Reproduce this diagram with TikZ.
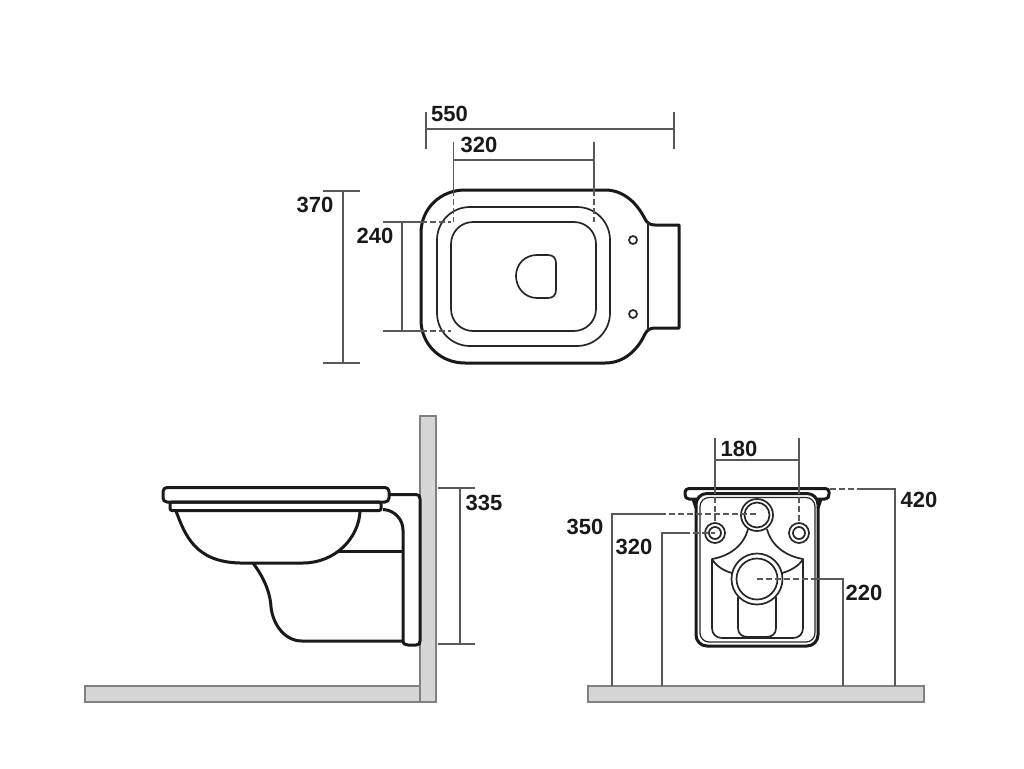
\documentclass[tikz,border=0pt]{standalone}
\usepackage{fontspec}
\setmainfont{Liberation Sans}
\begin{document}
\begin{tikzpicture}[x=1pt,y=-1pt,
outline/.style ={draw=black!90, line width=3pt, line join=round},
thin outline/.style ={draw=black!85, line width=1.7pt, line join=round},
dim/.style ={draw=black!65, line width=1.1pt},
dimdash/.style ={dim, dash pattern=on 6pt off 3pt},
masonry/.style ={fill=black!16, draw=black!50, line width=1.2pt},
size/.style ={font=\bfseries\fontsize{22}{24}\selectfont, text=black!90, inner sep=0pt}]
\useasboundingbox (0,0) rectangle (1024,768);

\draw[masonry] (420,416) rectangle (436,702);
\draw[masonry] (85,686) rectangle (420,702);
\draw[masonry] (588,686) rectangle (924,702);

\draw[outline] (465,190) -- (605,190) .. controls (625,190) and (638,205) .. (645,219)
  .. controls (647,223) and (650,225) .. (655,225) -- (679,225) -- (679,328) -- (655,328)
  .. controls (650,328) and (647,330) .. (645,334) .. controls (638,349) and (625,363) .. (605,363)
  -- (465,363) .. controls (440,363) and (421,344) .. (421,320) -- (421,233)
  .. controls (421,209) and (440,190) .. (465,190) -- cycle;
\draw[thin outline] (648,222) -- (648,331);
\draw[thin outline, rounded corners=33pt] (437,207) rectangle (610,346);
\draw[thin outline, rounded corners=22pt] (451,222) rectangle (596,331);
\draw[thin outline] (537,255) -- (548,255) .. controls (553,255) and (556,258) .. (556,263)
  -- (556,290) .. controls (556,295) and (553,298) .. (548,298) -- (537,298)
  .. controls (525,298) and (516,288) .. (516,276) .. controls (516,264) and (525,255) .. (537,255) -- cycle;
\draw[thin outline] (633,240) circle (4);
\draw[thin outline] (633,314) circle (4);

\draw[outline, rounded corners=4pt] (163,487.5) rectangle (389,502);
\draw[outline, rounded corners=2pt] (170,502) rectangle (381,510.5);
\draw[outline] (176,511) .. controls (185,535) and (195,562) .. (240,563) -- (303,563)
  .. controls (335,563) and (359,538) .. (360,511);
\draw[outline] (253,563) .. controls (262,575) and (270,590) .. (271,607)
  .. controls (273,625) and (285,641) .. (302,641) -- (403,641);
\draw[outline] (383,509.5) .. controls (395,510) and (403,520) .. (403,530) -- (403,640)
  .. controls (403,644) and (405,645) .. (408,645) -- (416,645)
  .. controls (419,645) and (420,644) .. (420,641) -- (420,499)
  .. controls (420,496) and (419,494.5) .. (416,494.5) -- (389,494.5);
\draw[outline] (338,551) -- (403,551);

\draw[outline] (697,499) -- (689,499) .. controls (686,499) and (685,497) .. (685,494)
  -- (685,492) .. controls (685,490) and (687,488.5) .. (689,488.5) -- (825,488.5)
  .. controls (828,488.5) and (829,490) .. (829,492) -- (829,494)
  .. controls (829,497) and (828,499) .. (825,499) -- (817,499);
\draw[outline] (693,499) -- (696,508) (821,499) -- (818,508);
\draw[outline, rounded corners=11pt] (696,493.5) rectangle (818,646);
\draw[thin outline, line width=1.2pt, rounded corners=9pt] (700,497.5) rectangle (815,642);
\draw[thin outline] (757,515) circle (16);
\draw[thin outline] (757,515) circle (12.5);
\draw[thin outline] (715,533) circle (10);
\draw[thin outline] (715,533) circle (6);
\draw[thin outline] (799,533) circle (10);
\draw[thin outline] (799,533) circle (6);
\draw[thin outline] (757,579) circle (25.5);
\draw[thin outline] (757,579) circle (20.5);
\draw[thin outline] (748,529) .. controls (744,545) and (730,556) .. (712,559) -- (712,628)
  .. controls (712,634) and (716,638) .. (722,638) -- (793,638)
  .. controls (799,638) and (803,634) .. (803,628) -- (803,559)
  .. controls (785,556) and (771,545) .. (767,529);
\draw[thin outline] (712,559) .. controls (716,566) and (724,571) .. (732,573);
\draw[thin outline] (803,559) .. controls (799,566) and (790,571) .. (782,573);
\draw[thin outline] (738,597) -- (738,628) .. controls (738,634) and (742,637) .. (748,637)
  -- (766,637) .. controls (772,637) and (776,634) .. (776,628) -- (776,597);

\node[size] (len) at (449.5,114) {550};
\node[size] (fixw) at (479,145) {320};
\node[size] (wid) at (315,205) {370};
\node[size] (fixh) at (375,236) {240};
\node[size] (hgt) at (484,503) {335};
\node[size] (pipew) at (739,449) {180};
\node[size] (top) at (919,500) {420};
\node[size] (inlet) at (585,527) {350};
\node[size] (bolt) at (634,547) {320};
\node[size] (waste) at (864,593) {220};

\draw[dim] (426,112) -- (426,149);
\draw[dim] (674,112) -- (674,149);
\draw[dim] (426,129) -- (674,129);
\draw[dim] (453.5,142) -- (453.5,190);
\draw[dim] (594,142) -- (594,190);
\draw[dim] (453.5,160) -- (594,160);
\draw[dimdash] (453.5,190) -- (453.5,222);
\draw[dimdash] (594,190) -- (594,222);
\draw[dim] (323,191) -- (360,191);
\draw[dim] (323,363) -- (360,363);
\draw[dim] (343,191) -- (343,363);
\draw[dim] (383,222) -- (421,222);
\draw[dim] (383,331) -- (421,331);
\draw[dim] (402,222) -- (402,331);
\draw[dimdash] (421,222) -- (451,222);
\draw[dimdash] (421,331) -- (451,331);

\draw[dim] (438,488) -- (475,488);
\draw[dim] (438,644) -- (475,644);
\draw[dim] (460,488) -- (460,644);

\draw[dim] (715,438) -- (715,488);
\draw[dim] (799,438) -- (799,488);
\draw[dim] (715,460) -- (799,460);
\draw[dimdash] (715,488) -- (715,523);
\draw[dimdash] (799,488) -- (799,523);
\draw[dimdash] (830,489) -- (862,489);
\draw[dim] (862,489) -- (895,489) -- (895,686);
\draw[dim] (612,686) -- (612,514) -- (660,514);
\draw[dimdash] (660,514) -- (757,514);
\draw[dim] (662,686) -- (662,533) -- (684,533);
\draw[dimdash] (684,533) -- (715,533);
\draw[dimdash] (757,579) -- (817,579);
\draw[dim] (817,579) -- (843,579) -- (843,686);
\end{tikzpicture}
\end{document}
